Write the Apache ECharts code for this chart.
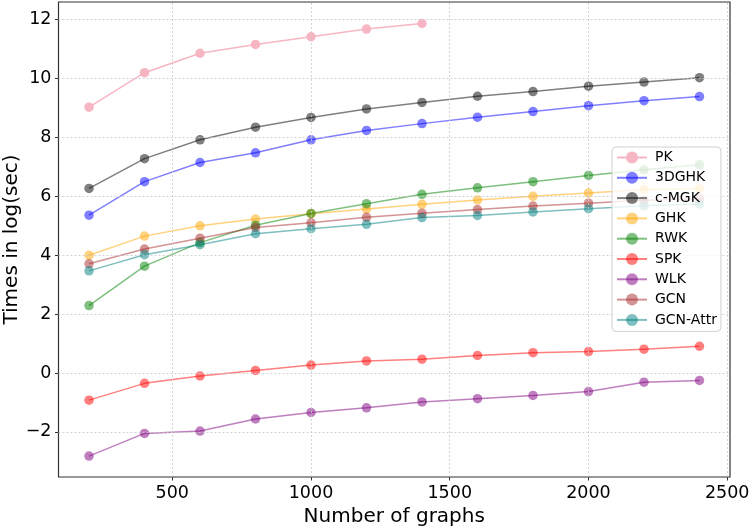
<!DOCTYPE html>
<html>
<head>
<meta charset="utf-8">
<script src="https://cdn.jsdelivr.net/npm/echarts@6/dist/echarts.min.js"></script>
<style>html,body{margin:0;padding:0;background:#fff;}#c{width:750px;height:527px;}</style>
</head>
<body>
<div id="c"></div>
<script>
var graphCounts = [200, 400, 600, 800, 1000, 1200, 1400, 1600, 1800, 2000, 2200, 2400];
var PK      = [9.03, 10.20, 10.86, 11.16, 11.42, 11.68, 11.87];
var GHK3D   = [5.36, 6.50, 7.15, 7.48, 7.92, 8.24, 8.47, 8.69, 8.88, 9.08, 9.25, 9.39];
var cMGK    = [6.27, 7.28, 7.92, 8.35, 8.68, 8.97, 9.19, 9.40, 9.56, 9.74, 9.88, 10.03];
var GHK     = [4.00, 4.65, 5.00, 5.23, 5.41, 5.57, 5.73, 5.88, 6.00, 6.11, 6.23, 6.26];
var RWK     = [2.29, 3.63, 4.43, 5.02, 5.42, 5.75, 6.07, 6.29, 6.50, 6.71, 6.90, 7.07];
var SPK     = [-0.92, -0.35, -0.10, 0.09, 0.27, 0.41, 0.47, 0.60, 0.69, 0.73, 0.81, 0.91];
var WLK     = [-2.82, -2.05, -1.97, -1.56, -1.34, -1.18, -0.98, -0.87, -0.76, -0.63, -0.31, -0.25];
var GCN     = [3.71, 4.21, 4.58, 4.94, 5.10, 5.29, 5.43, 5.55, 5.67, 5.77, 5.87, 5.92];
var GCNAttr = [3.47, 4.02, 4.36, 4.73, 4.90, 5.05, 5.28, 5.35, 5.47, 5.58, 5.68, 5.74];

var seriesNames = ['PK', '3DGHK', 'c-MGK', 'GHK', 'RWK', 'SPK', 'WLK', 'GCN', 'GCN-Attr'];
var seriesValues = [PK, GHK3D, cMGK, GHK, RWK, SPK, WLK, GCN, GCNAttr];
var seriesColors = ['rgba(247,178,192,0.95)', 'rgba(0,0,255,0.5)', 'rgba(0,0,0,0.5)', 'rgba(255,165,0,0.5)',
  'rgba(0,128,0,0.5)', 'rgba(255,0,0,0.5)', 'rgba(128,0,128,0.5)', 'rgba(165,42,42,0.5)', 'rgba(0,128,128,0.5)'];

var xTicks = [500, 1000, 1500, 2000, 2500];
var yTicks = [-2, 0, 2, 4, 6, 8, 10, 12];

var FONT = 'DejaVu Sans';
var gridStyle = { color: '#c8c8c8', type: [2, 2], width: 0.8 };

var series = [{
  name: '__grid',
  type: 'line',
  data: [],
  silent: true,
  z: 1,
  markLine: {
    silent: true,
    symbol: ['none', 'none'],
    animation: false,
    label: { show: false },
    lineStyle: gridStyle,
    emphasis: { disabled: true },
    data: xTicks.filter(function (t) { return t < 2510; }).map(function (t) { return { xAxis: t }; })
      .concat(yTicks.map(function (t) { return { yAxis: t }; }))
  }
}].concat(seriesNames.map(function (name, i) {
  return {
    name: name,
    type: 'line',
    data: seriesValues[i].map(function (v, j) { return [graphCounts[j], v]; }),
    symbol: 'circle',
    symbolSize: 9.5,
    showSymbol: true,
    animation: false,
    z: 2,
    lineStyle: { color: seriesColors[i], width: 1.5 },
    itemStyle: { color: seriesColors[i] },
    emphasis: { disabled: true }
  };
}));

var chart = echarts.init(document.getElementById('c'), null, { renderer: 'canvas' });
chart.setOption({
  backgroundColor: '#fff',
  animation: false,
  grid: { left: 58.5, right: 20, top: 2, bottom: 50, show: true, borderColor: '#333', borderWidth: 1.2,
    backgroundColor: 'transparent', outerBoundsMode: 'none', containLabel: false },
  xAxis: {
    type: 'value', min: 90, max: 2510,
    name: 'Number of graphs', nameLocation: 'middle', nameGap: 27,
    nameTextStyle: { fontFamily: FONT, fontSize: 20, color: '#000' },
    axisLine: { show: false, onZero: false },
    axisTick: { show: true, length: 3.5, customValues: xTicks, lineStyle: { color: '#333' } },
    axisLabel: { customValues: xTicks, fontFamily: FONT, fontSize: 17.5, color: '#000', margin: 7,
      formatter: function (v) { return String(v); } },
    splitLine: { show: false }
  },
  yAxis: {
    type: 'value', min: -3.53, max: 12.6,
    name: 'Times in log(sec)', nameLocation: 'middle', nameGap: 37, nameMoveOverlap: false,
    nameTextStyle: { fontFamily: FONT, fontSize: 20, color: '#000' },
    axisLine: { show: false, onZero: false },
    axisTick: { show: true, length: 3.5, customValues: yTicks, lineStyle: { color: '#333' } },
    axisLabel: { customValues: yTicks, fontFamily: FONT, fontSize: 17.5, color: '#000', margin: 7,
      formatter: function (v) { return v < 0 ? '\u2212' + Math.abs(v) : String(v); } },
    splitLine: { show: false }
  },
  legend: {
    orient: 'vertical',
    left: 612, top: 147,
    z: 20,
    data: seriesNames,
    itemWidth: 30, itemHeight: 15, itemGap: 5.3,
    padding: [3, 4, 4, 4],
    backgroundColor: 'rgba(255,255,255,0.8)',
    borderColor: '#d0d0d0', borderWidth: 1, borderRadius: 4,
    textStyle: { fontFamily: FONT, fontSize: 14, color: '#000', lineHeight: 15, padding: [0, 0, 0, 3] },
    selectedMode: false
  },
  series: series
});
</script>
</body>
</html>
